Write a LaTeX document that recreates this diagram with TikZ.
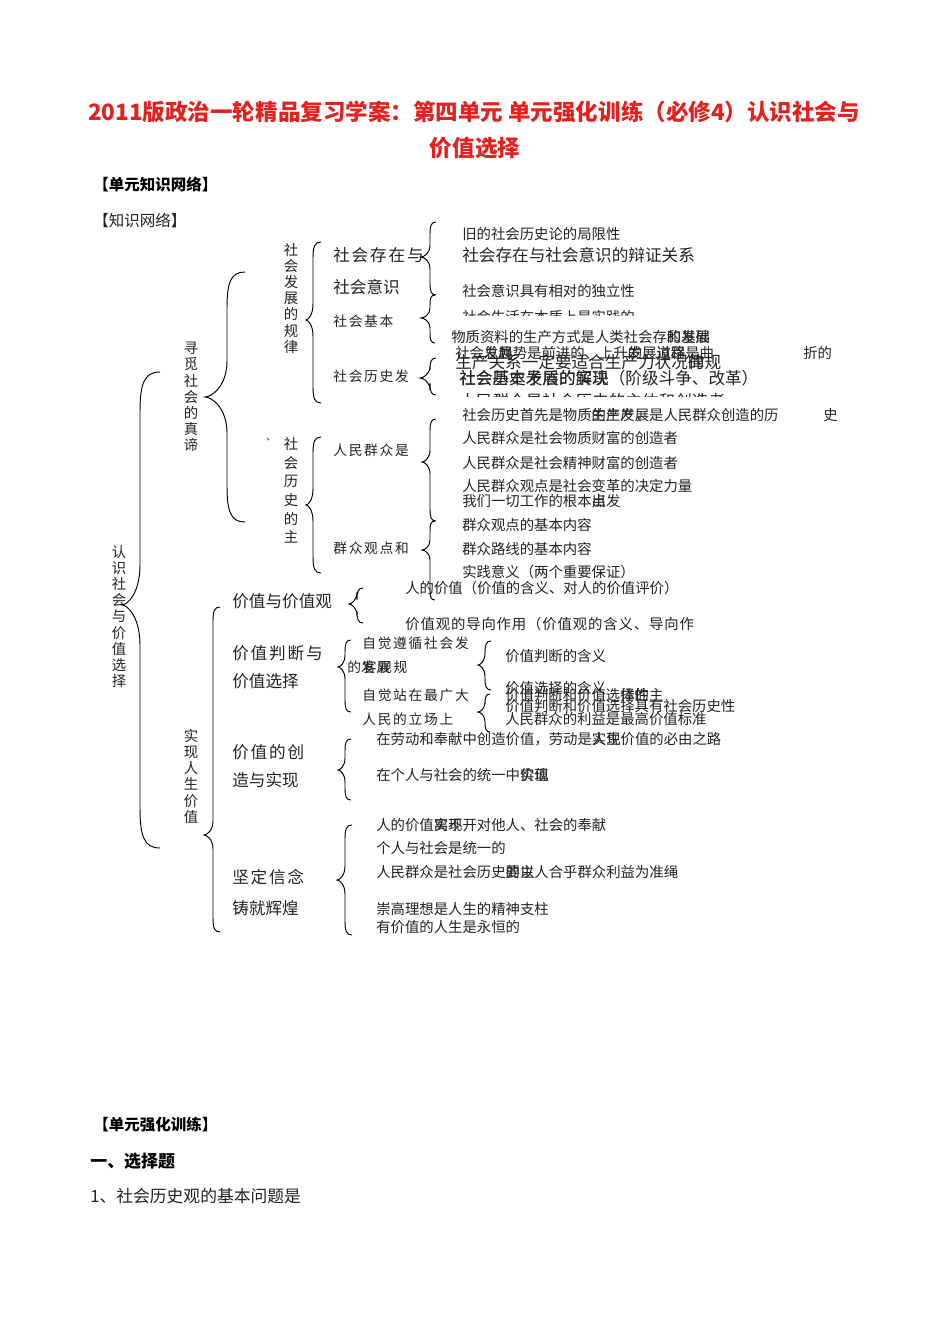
\documentclass[tikz,border=0pt]{standalone}
\usepackage{fontspec}
\setmainfont{Noto Sans CJK SC}
\usetikzlibrary{positioning}

\definecolor{titlered}{HTML}{E3211F}
\definecolor{inkgray}{HTML}{222222}

% left curly brace: [hook]{x}{top}{tip y}{bottom}{tip x}
\newcommand\brc[6][6]{%
  \draw[bline] (#2+#1,#3) .. controls (#2+0.2*#1,#3) and (#2,#3+0.6*#1) .. (#2,#3+2*#1)
    -- (#2,#4-2*#1) .. controls (#2,#4-0.6*#1) and (#6+0.3*#2-0.3*#6,#4) .. (#6,#4)
    .. controls (#6+0.3*#2-0.3*#6,#4) and (#2,#4+0.6*#1) .. (#2,#4+2*#1)
    -- (#2,#5-2*#1) .. controls (#2,#5-0.6*#1) and (#2+0.2*#1,#5) .. (#2+#1,#5);}

\begin{document}
\begin{tikzpicture}[
    x=0.626pt, y=-0.626pt,
    every node/.style={inner sep=0, text=inkgray},
    bline/.style={line width=0.6pt, black},
    txt/.style={anchor=west, font=\fontsize{9}{10}\selectfont},
    bigt/.style={anchor=west, font=\fontsize{10.4}{12}\selectfont},
    spl/.style={anchor=west, font=\fontsize{8.6}{10}\selectfont\addfontfeature{LetterSpace=12.5}},
    spt/.style={anchor=west, font=\fontsize{9}{10}\selectfont\addfontfeature{LetterSpace=6}},
    spb/.style={anchor=west, font=\fontsize{10.4}{12}\selectfont\addfontfeature{LetterSpace=11}},
    vlab/.style={anchor=north, align=center, font=\fontsize{9}{10.1}\selectfont},
    head/.style={anchor=west, font=\fontsize{9.7}{11}\selectfont\bfseries, text=black},
    ttl/.style={font=\fontsize{14.1}{16}\selectfont\bfseries, text=titlered}
]
    \useasboundingbox (0,0) rectangle (950,1344);

    % title and headings
    \node[ttl] (t1) at (474,112) {2011版政治一轮精品复习学案：第四单元 单元强化训练（必修4）认识社会与};
    \node[ttl] (t2) at (475,148) {价值选择};
    \node[head] (hdNet) at (93,185) {【单元知识网络】};
    \node[txt, font=\fontsize{9.7}{11}\selectfont] (hdKnow) at (93,221) {【知识网络】};

    % vertical labels
    \node[vlab] (vAll) at (119,545) {认\\识\\社\\会\\与\\价\\值\\选\\择};
    \node[vlab] (vSeek) at (191,342) {寻\\觅\\社\\会\\的\\真\\谛};
    \node[vlab] (vLaw) at (291,243) {社\\会\\发\\展\\的\\规\\律};
    \node[vlab, font=\fontsize{9}{11.7}\selectfont] (vSubj) at (291,437) {社\\会\\历\\史\\的\\主};
    \node[vlab] (vReal) at (191,729) {实\\现\\人\\生\\价\\值};
    \node[txt, font=\fontsize{6}{7}\selectfont] (dot) at (266,440) {、};

    % second level labels
    \node[spb] (exist) at (333,255) {社会存在与};
    \node[bigt] (consc) at (333,287) {社会意识};
    \node[spl] (basic) at (333,321) {社会基本};
    \node[spl] (hist) at (333,376) {社会历史发};
    \node[spl] (people) at (333,450) {人民群众是};
    \node[spl] (mass) at (333,548) {群众观点和};

    % right column, first part
    \node[txt] (r1) at (462,234) {旧的社会历史论的局限性};
    \node[bigt] (r2) at (462,255) {社会存在与社会意识的辩证关系};
    \node[txt] (r3) at (462,291) {社会意识具有相对的独立性};
    \begin{scope}
        \clip (440,300) rectangle (700,315);
        \node[txt] (r4) at (462,317) {社会生活在本质上是实践的};
    \end{scope}
    \node[txt] (r5) at (451,337) {物质资料的生产方式是人类社会存的基础};
    \node[txt] (r5b) at (451,337) {\phantom{物质资料的生产方式是人类社会存}和发展};
    \node[txt] (r6) at (455,353) {社会总趋势是前进的、上升的，道路是曲};
    \node[txt] (r6b) at (455,353) {\phantom{社会}发展\phantom{是前进的、上升的}发展过程};
    \node[txt] (r6c) at (803,353) {折的};
    \node[bigt] (r7) at (455,362) {生产关系一定要适合生产力状况的规};
    \node[bigt] (r7b) at (455,362) {\phantom{生产关系一定要适合生产力状况}律};
    \node[bigt] (r8) at (459,378) {社会基本矛盾的解决（阶级斗争、改革）};
    \node[bigt] (r8b) at (459,378) {社会历史发展的实现};
    \begin{scope}
        \clip (440,385) rectangle (760,396);
        \node[bigt] (r9) at (459,401) {人民群众是社会历史的主体和创造者};
    \end{scope}
    \node[txt] (r10) at (462,415) {社会历史首先是物质的生产，是人民群众创造的历};
    \node[txt] (r10b) at (462,415) {\phantom{社会历史首先是物质}生产发展};
    \node[txt] (r10c) at (823,415) {史};
    \node[txt] (r11) at (462,438) {人民群众是社会物质财富的创造者};
    \node[txt] (r12) at (462,463) {人民群众是社会精神财富的创造者};
    \node[txt] (r13) at (462,486) {人民群众观点是社会变革的决定力量};
    \node[txt] (r14) at (462,501) {我们一切工作的根本出发};
    \node[txt] (r14b) at (462,501) {\phantom{我们一切工作的根本}点};
    \node[txt] (r15) at (462,525) {群众观点的基本内容};
    \node[txt] (r16) at (462,549) {群众路线的基本内容};
    \node[txt] (r17) at (462,572) {实践意义（两个重要保证）};

    % value part
    \node[txt] (v1) at (405,588) {人的价值（价值的含义、对人的价值评价）};
    \node[bigt] (valview) at (232,601) {价值与价值观};
    \node[spt] (v2) at (405,624) {价值观的导向作用（价值观的含义、导向作};
    \node[spb] (judge) at (232,653) {价值判断与};
    \node[bigt] (judge2) at (232,681) {价值选择};
    \node[spl] (j1) at (362,643) {自觉遵循社会发};
    \node[spl] (j2) at (347,667) {的客观规};
    \node[spl] (j2b) at (347,667) {\phantom{的}发展};
    \node[spl] (j3) at (362,695) {自觉站在最广大};
    \node[spl] (j4) at (362,719) {人民的立场上};
    \node[txt] (k1) at (505,656) {价值判断的含义};
    \node[txt] (k2) at (505,688) {价值选择的含义};
    \node[txt] (k3) at (505,695) {价值判断和价值选择的主};
    \node[txt] (k3b) at (505,695) {\phantom{价值判断和价值选}体性};
    \node[txt] (k4) at (505,706) {价值判断和价值选择具有社会历史性};
    \node[txt] (k5) at (505,719) {人民群众的利益是最高价值标准};
    \node[spb] (create) at (232,752) {价值的创};
    \node[bigt] (create2) at (232,780) {造与实现};
    \node[txt] (c1) at (376,739) {在劳动和奉献中创造价值，劳动是实现价值的必由之路};
    \node[txt] (c1b) at (376,739) {\phantom{在劳动和奉献中创造价值，劳动是}人生};
    \node[txt] (c2) at (376,775) {在个人与社会的统一中实现};
    \node[txt] (c2b) at (376,775) {\phantom{在个人与社会的统一中}价值};
    \node[spb] (faith) at (232,877) {坚定信念};
    \node[bigt] (faith2) at (232,908) {铸就辉煌};
    \node[txt] (f1) at (376,825) {人的价值离不开对他人、社会的奉献};
    \node[txt] (f1b) at (376,825) {\phantom{人的价值}实现};
    \node[txt] (f2) at (376,848) {个人与社会是统一的};
    \node[txt] (f3) at (376,872) {人民群众是社会历史的主};
    \node[txt] (f3b) at (376,872) {\phantom{人民群众是社会历史}要以人合乎群众利益为准绳};
    \node[txt] (f4) at (376,909) {崇高理想是人生的精神支柱};
    \node[txt] (f5) at (376,927) {有价值的人生是永恒的};

    % braces
    \brc[20]{140}{372}{605}{848}{122}
    \brc[18]{227}{272}{397}{522}{205}
    \brc[7]{213}{607}{835}{932}{204}
    \brc[8]{313}{242}{320}{403}{306}
    \brc[8]{313}{437}{505}{573}{306}
    \brc{430}{222}{257}{295}{421}
    \brc[5]{430}{295}{318}{343}{421}
    \brc{430}{358}{378}{395}{420}
    \brc{430}{419}{462}{521}{422}
    \brc[5]{430}{521}{550}{600}{422}
    \brc{357}{588}{604}{623}{349}
    \brc{345}{640}{667}{712}{338}
    \brc{485}{641}{665}{690}{478}
    \brc[5]{485}{694}{712}{732}{478}
    \brc{345}{739}{770}{800}{338}
    \brc[7]{345}{825}{880}{935}{337}

    % exercises
    \node[head] (hdTrain) at (93,1125) {【单元强化训练】};
    \node[head, font=\fontsize{10.6}{12}\selectfont\bfseries] (hdChoice) at (90,1161) {一、选择题};
    \node[txt, font=\fontsize{10.5}{12}\selectfont] (q1) at (90,1196) {1、社会历史观的基本问题是};
\end{tikzpicture}
\end{document}
